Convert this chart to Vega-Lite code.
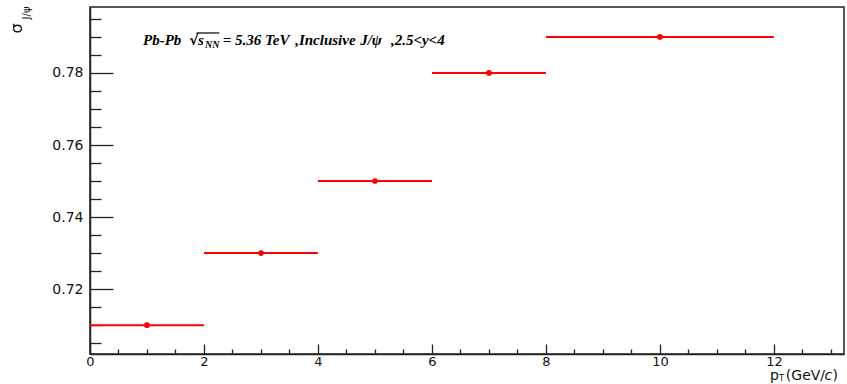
{
  "$schema": "https://vega.github.io/schema/vega-lite/v6.json",
  "width": 754,
  "height": 347,
  "autosize": "none",
  "padding": {"left": 90, "top": 7, "right": 3, "bottom": 30},
  "background": "white",
  "config": {
    "view": {"stroke": "#222", "strokeWidth": 1.5},
    "axis": {
      "domainColor": "#222", "domainWidth": 1.5, "tickColor": "#222", "tickWidth": 1.3,
      "labelFont": "DejaVu Sans", "labelFontSize": 14, "labelColor": "#111",
      "grid": false, "labelOverlap": false, "labelBound": false, "labelFlush": false
    }
  },
  "datasets": {
    "points": [
      {"pt": 1, "lo": 0, "hi": 2, "sigma": 0.71},
      {"pt": 3, "lo": 2, "hi": 4, "sigma": 0.73},
      {"pt": 5, "lo": 4, "hi": 6, "sigma": 0.75},
      {"pt": 7, "lo": 6, "hi": 8, "sigma": 0.78},
      {"pt": 10, "lo": 8, "hi": 12, "sigma": 0.79}
    ],
    "annot": [
      {"x": 0.93, "y": 0.78775, "text": "Pb-Pb"},
      {"x": 1.895, "y": 0.78775, "text": "s"},
      {"x": 2.33, "y": 0.78775, "text": "= 5.36 TeV"},
      {"x": 3.6, "y": 0.78775, "text": ",Inclusive"},
      {"x": 4.74, "y": 0.78775, "text": "J/ψ"},
      {"x": 5.28, "y": 0.78775, "text": ",2.5<y<4"}
    ],
    "annotRoot": [
      {"x": 1.74, "y": 0.78775, "text": "√"}
    ],
    "annotSub": [
      {"x": 2.02, "y": 0.78692, "text": "NN"}
    ],
    "overline": [
      {"x": 1.87, "x2": 2.27, "y": 0.79109}
    ],
    "ytitleSub": [
      {"x": -1.105, "y": 0.79664, "text": "J/ψ"}
    ],
    "xtitle": [
      {"x": 11.93, "y": 0.69479, "text": "p"},
      {"x": 12.21, "y": 0.69479, "text": "(GeV/"},
      {"x": 13.03, "y": 0.69479, "text": ")"}
    ],
    "xtitleItalic": [
      {"x": 12.89, "y": 0.69479, "text": "c"}
    ],
    "xtitleSub": [
      {"x": 12.09, "y": 0.69438, "text": "T"}
    ]
  },
  "layer": [
    {
      "data": {"name": "points"},
      "mark": {"type": "rule", "color": "#ff0000", "strokeWidth": 2},
      "encoding": {
        "x": {
          "field": "lo", "type": "quantitative",
          "scale": {"domain": [0, 13.23], "nice": false, "zero": false},
          "axis": {
            "orient": "bottom",
            "values": [0, 2, 4, 6, 8, 10, 12],
            "format": "d",
            "ticks": false, "tickSize": 0,
            "labelPadding": 1, "labelFontSize": 13,
            "title": null
          }
        },
        "x2": {"field": "hi"},
        "y": {
          "field": "sigma", "type": "quantitative",
          "scale": {"domain": [0.702, 0.7983], "nice": false, "zero": false},
          "axis": {
            "orient": "left",
            "values": [0.72, 0.74, 0.76, 0.78],
            "format": ".2f",
            "ticks": false, "tickSize": 0,
            "labelPadding": 7,
            "title": "σ",
            "titleFont": "DejaVu Sans", "titleFontSize": 16, "titleFontWeight": "normal", "titleColor": "#111",
            "titleAngle": 270, "titleAlign": "center", "titleBaseline": "middle",
            "titleX": -74, "titleY": 21
          }
        }
      }
    },
    {
      "data": {"name": "points"},
      "mark": {"type": "point", "filled": true, "color": "#ff0000", "size": 32, "opacity": 1},
      "encoding": {
        "x": {
          "field": "pt", "type": "quantitative",
          "axis": {
            "orient": "top", "offset": -347,
            "values": [0,0.5,1,1.5,2,2.5,3,3.5,4,4.5,5,5.5,6,6.5,7,7.5,8,8.5,9,9.5,10,10.5,11,11.5,12,12.5,13],
            "labels": false, "domain": false, "title": null,
            "tickSize": {"condition": {"test": "datum.value % 2 === 0", "value": 10}, "value": 5}
          }
        },
        "y": {
          "field": "sigma", "type": "quantitative",
          "axis": {
            "orient": "right", "offset": -754,
            "values": [0.705,0.71,0.715,0.72,0.725,0.73,0.735,0.74,0.745,0.75,0.755,0.76,0.765,0.77,0.775,0.78,0.785,0.79,0.795],
            "labels": false, "domain": false, "title": null,
            "tickSize": {"condition": {"test": "abs(datum.value*50 - round(datum.value*50)) < 0.000001", "value": 23}, "value": 11}
          }
        }
      }
    },
    {
      "data": {"name": "annot"},
      "mark": {"type": "text", "font": "Liberation Serif", "fontStyle": "italic", "fontWeight": "bold", "fontSize": 15, "align": "left", "baseline": "alphabetic", "color": "#000"},
      "encoding": {
        "x": {"field": "x", "type": "quantitative", "axis": null},
        "y": {"field": "y", "type": "quantitative", "axis": null},
        "text": {"field": "text"}
      }
    },
    {
      "data": {"name": "annotRoot"},
      "mark": {"type": "text", "font": "DejaVu Sans", "fontWeight": "bold", "fontSize": 14, "align": "left", "baseline": "alphabetic", "color": "#000"},
      "encoding": {
        "x": {"field": "x", "type": "quantitative", "axis": null},
        "y": {"field": "y", "type": "quantitative", "axis": null},
        "text": {"field": "text"}
      }
    },
    {
      "data": {"name": "annotSub"},
      "mark": {"type": "text", "font": "Liberation Serif", "fontStyle": "italic", "fontWeight": "bold", "fontSize": 10, "align": "left", "baseline": "alphabetic", "color": "#000"},
      "encoding": {
        "x": {"field": "x", "type": "quantitative", "axis": null},
        "y": {"field": "y", "type": "quantitative", "axis": null},
        "text": {"field": "text"}
      }
    },
    {
      "data": {"name": "overline"},
      "mark": {"type": "rule", "color": "#000", "strokeWidth": 1.2},
      "encoding": {
        "x": {"field": "x", "type": "quantitative", "axis": null},
        "x2": {"field": "x2"},
        "y": {"field": "y", "type": "quantitative", "axis": null}
      }
    },
    {
      "data": {"name": "ytitleSub"},
      "mark": {"type": "text", "font": "DejaVu Sans", "fontSize": 10, "angle": 270, "align": "center", "baseline": "middle", "color": "#111"},
      "encoding": {
        "x": {"field": "x", "type": "quantitative", "axis": null},
        "y": {"field": "y", "type": "quantitative", "axis": null},
        "text": {"field": "text"}
      }
    },
    {
      "data": {"name": "xtitle"},
      "mark": {"type": "text", "font": "DejaVu Sans", "fontSize": 14, "align": "left", "baseline": "alphabetic", "color": "#111"},
      "encoding": {
        "x": {"field": "x", "type": "quantitative", "axis": null},
        "y": {"field": "y", "type": "quantitative", "axis": null},
        "text": {"field": "text"}
      }
    },
    {
      "data": {"name": "xtitleItalic"},
      "mark": {"type": "text", "font": "DejaVu Sans", "fontStyle": "italic", "fontSize": 14, "align": "left", "baseline": "alphabetic", "color": "#111"},
      "encoding": {
        "x": {"field": "x", "type": "quantitative", "axis": null},
        "y": {"field": "y", "type": "quantitative", "axis": null},
        "text": {"field": "text"}
      }
    },
    {
      "data": {"name": "xtitleSub"},
      "mark": {"type": "text", "font": "DejaVu Sans", "fontSize": 8.5, "align": "left", "baseline": "alphabetic", "color": "#111"},
      "encoding": {
        "x": {"field": "x", "type": "quantitative", "axis": null},
        "y": {"field": "y", "type": "quantitative", "axis": null},
        "text": {"field": "text"}
      }
    }
  ],
  "resolve": {"axis": {"x": "independent", "y": "independent"}}
}
